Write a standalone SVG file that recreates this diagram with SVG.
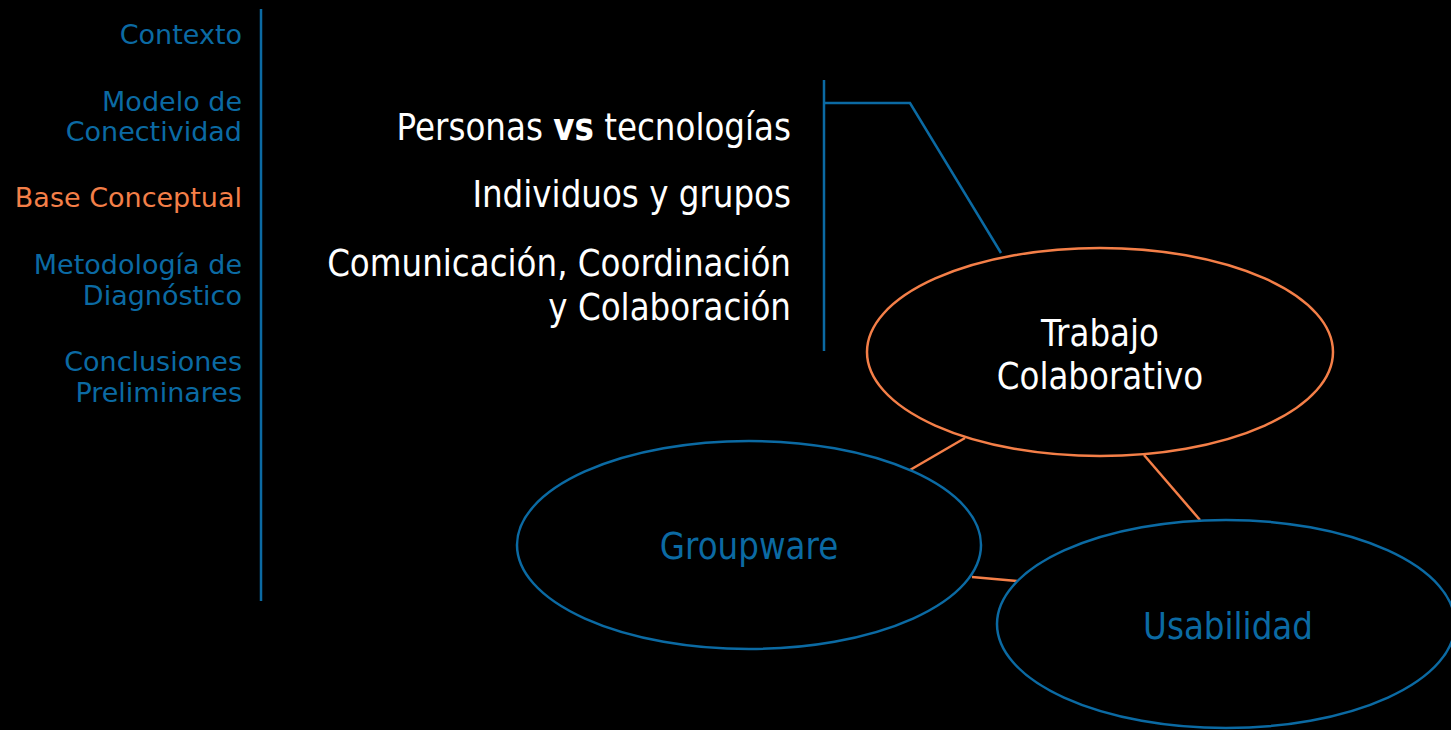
<svg xmlns="http://www.w3.org/2000/svg" width="1451" height="730" viewBox="0 0 1451 730">
<style>
text{font-family:"DejaVu Sans","Verdana",sans-serif}
.nav{font-size:27px;fill:#0b6aa3;text-anchor:end}
.cur{fill:#f47f48}
.mid{font-size:37px;fill:#ffffff;text-anchor:end}
.lbl{font-size:37px;text-anchor:middle}
.bl{stroke:#0b6aa3;stroke-width:2.5;fill:none}
.or{stroke:#f47f48;stroke-width:2.5;fill:none}
</style>
<rect width="1451" height="730" fill="#000"/>
<g id="nav">
<text class="nav" x="242" y="44">Contexto</text>
<text class="nav" x="242" y="111">Modelo de</text>
<text class="nav" x="242" y="141">Conectividad</text>
<text class="nav cur" x="242" y="207">Base Conceptual</text>
<text class="nav" x="242" y="274">Metodología de</text>
<text class="nav" x="242" y="305">Diagnóstico</text>
<text class="nav" x="242" y="371">Conclusiones</text>
<text class="nav" x="242" y="402">Preliminares</text>
<line class="bl" x1="261" y1="9" x2="261" y2="601"/>
</g>
<g id="concepts" transform="translate(791 0) scale(0.88 1)">
<text class="mid" x="0" y="140">Personas <tspan font-weight="bold">vs</tspan> tecnologías</text>
<text class="mid" x="0" y="207">Individuos y grupos</text>
<text class="mid" x="0" y="276">Comunicación, Coordinación</text>
<text class="mid" x="0" y="320">y Colaboración</text>
</g>
<g id="connectors">
<path class="bl" d="M824,80 V351 M824,103 H910 L1001,253"/>
<line class="or" x1="965" y1="438" x2="910" y2="470"/>
<line class="or" x1="1144" y1="455" x2="1200" y2="520"/>
<line class="or" x1="972" y1="577" x2="1017" y2="581"/>
</g>
<g id="trabajo">
<ellipse class="or" cx="1100" cy="352" rx="233" ry="104"/>
<g transform="translate(1100 0) scale(0.88 1)">
<text class="lbl" x="0" y="346" fill="#fff">Trabajo</text>
<text class="lbl" x="0" y="389" fill="#fff">Colaborativo</text>
</g>
</g>
<g id="groupware">
<ellipse class="bl" cx="749" cy="545" rx="232" ry="104"/>
<text class="lbl" transform="translate(749 0) scale(0.88 1)" x="0" y="559" fill="#0b6aa3">Groupware</text>
</g>
<g id="usabilidad">
<ellipse class="bl" cx="1226" cy="624" rx="229" ry="104"/>
<text class="lbl" transform="translate(1228 0) scale(0.88 1)" x="0" y="639" fill="#0b6aa3">Usabilidad</text>
</g>
</svg>
